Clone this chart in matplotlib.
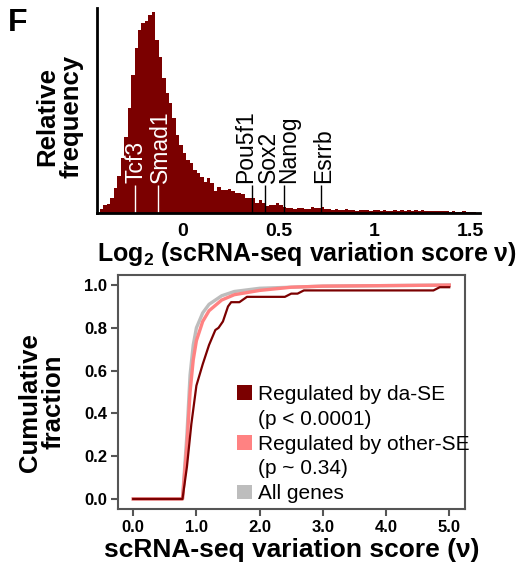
import numpy as np
import matplotlib
matplotlib.use('Agg')
import matplotlib.pyplot as plt
from matplotlib.patches import Patch

plt.rcParams['font.family'] = ['Liberation Sans', 'DejaVu Sans']
plt.rcParams['mathtext.fontset'] = 'custom'
plt.rcParams['mathtext.rm'] = 'Liberation Sans'
plt.rcParams['mathtext.bf'] = 'Liberation Sans:bold'

# Histogramme (log2 score de variation), hauteurs relatives par classe
hist_start = -0.432
hist_width = 0.018
hist_heights = [4, 8, 9, 15, 25, 37, 55, 76, 105, 138,
                165, 183, 190, 192, 198, 201, 173, 156, 135, 120,
                110, 95, 78, 68, 60, 53, 50, 43, 40, 36,
                31, 35, 30, 22, 26, 23, 23, 24, 22, 20,
                20, 19, 15, 15, 15, 10, 13, 10, 7, 8,
                8, 10, 8, 6, 5, 5, 4, 5, 5, 4,
                4, 6, 5, 5, 6, 4, 4, 3, 4, 3,
                3, 4, 3, 3, 2, 3, 3, 3, 2, 3,
                3, 2, 3, 2, 2, 3, 2, 3, 2, 3,
                2, 3, 2, 3, 2, 2, 2, 2, 1.5, 1.5,
                1.5, 1, 1.5, 1, 1, 1.5, 1, 1, 1]

genes = ['Tcf3', 'Smad1', 'Pou5f1', 'Sox2', 'Nanog', 'Esrrb']
gene_x = [-0.25, -0.13, 0.36, 0.43, 0.53, 0.72]

# Courbes cumulatives
da_x = [0.0, 0.78, 0.85, 0.92, 1.0, 1.05, 1.1, 1.2, 1.3, 1.35, 1.42, 1.5, 1.55,
        1.68, 1.8, 2.4, 2.5, 2.6, 2.7, 4.75, 4.85, 5.0]
da_y = [0.0, 0.0, 0.15, 0.35, 0.53, 0.58, 0.63, 0.72, 0.79, 0.80, 0.83, 0.90, 0.92,
        0.92, 0.945, 0.945, 0.96, 0.96, 0.975, 0.975, 0.99, 0.99]
other_x = [0.0, 0.78, 0.85, 0.9, 0.95, 1.0, 1.1, 1.2, 1.4, 1.6, 2.0, 2.5, 3.0, 5.0]
other_y = [0.0, 0.0, 0.25, 0.5, 0.65, 0.74, 0.83, 0.88, 0.93, 0.955, 0.975, 0.99, 0.995, 1.0]
all_x = [0.0, 0.78, 0.85, 0.9, 0.95, 1.0, 1.1, 1.2, 1.4, 1.6, 2.0, 3.0, 5.0]
all_y = [0.0, 0.0, 0.3, 0.58, 0.72, 0.8, 0.87, 0.91, 0.95, 0.97, 0.985, 0.995, 1.0]

legend_labels = ['Regulated by da-SE', '(p < 0.0001)', 'Regulated by other-SE',
                 '(p ~ 0.34)', 'All genes']

dark = '#7B0000'
salmon = '#FF8282'
grey = '#BDBDBD'

fig = plt.figure(figsize=(5.25, 5.63), dpi=100)

# ---- panneau du haut
ax1 = fig.add_axes([0.1848, 0.6217, 0.7295, 0.3641])
edges = hist_start + hist_width * np.arange(len(hist_heights) + 1)
ax1.stairs(hist_heights, edges, fill=True, color=dark, linewidth=0)

gene_col = ['white', 'white', 'black', 'black', 'black', 'black']
gene_dx = [8, 9, 0, 10, 11, 9]   # decalage du texte en pixels
ax1.vlines(gene_x, 0, 28, colors=gene_col, linewidth=1)
for g, x, c, dx in zip(genes, gene_x, gene_col, gene_dx):
    ax1.annotate(g, (x, 30), xytext=(dx, 0), textcoords='offset pixels',
                 rotation=90, rotation_mode='anchor', color=c, fontsize=16.5,
                 ha='left', va='baseline')

ax1.set_xlim(-0.4475, 1.55)
ax1.set_ylim(0, 205)
for sp in ['top', 'right']:
    ax1.spines[sp].set_visible(False)
for sp in ['left', 'bottom']:
    ax1.spines[sp].set_linewidth(2)
ax1.set_yticks([])
ax1.set_xticks([0, 0.5, 1, 1.5])
ax1.set_xticklabels(['0', '0.5', '1', '1.5'], fontsize=14, fontweight='bold')
ax1.tick_params(axis='x', length=0, pad=7)
ax1.set_xlabel(r'Log$_\mathbf{2}$ (scRNA-seq variation score ν)', fontsize=18,
               fontweight='bold', labelpad=0)
ax1.xaxis.label.set_x(0.548)
ax1.set_ylabel('Relative\nfrequency', fontsize=18.5, fontweight='bold',
               linespacing=1.0, labelpad=10)
ax1.yaxis.label.set_y(0.47)

# ---- panneau du bas
ax2 = fig.add_axes([0.2248, 0.0959, 0.661, 0.4156])
ax2.plot(all_x, all_y, color=grey, linewidth=2.4)
ax2.plot(other_x, other_y, color=salmon, linewidth=2.4)
ax2.plot(da_x, da_y, color=dark, linewidth=1.6)

ax2.set_xlim(-0.24, 5.25)
ax2.set_ylim(-0.047, 1.047)
ax2.set_xticks([0, 1, 2, 3, 4, 5])
ax2.set_xticklabels(['0.0', '1.0', '2.0', '3.0', '4.0', '5.0'], fontsize=12, fontweight='bold')
ax2.set_yticks([0, 0.2, 0.4, 0.6, 0.8, 1.0])
ax2.set_yticklabels(['0.0', '0.2', '0.4', '0.6', '0.8', '1.0'], fontsize=12, fontweight='bold')
for sp in ax2.spines.values():
    sp.set_color('#555555')
    sp.set_linewidth(1.5)
ax2.tick_params(length=5, width=1.5, color='#555555', pad=3)
ax2.set_xlabel('scRNA-seq variation score (ν)', fontsize=19, fontweight='bold', labelpad=2)
ax2.set_ylabel('Cumulative\nfraction', fontsize=18.5, fontweight='bold', linespacing=1.0,
               labelpad=13)
ax2.yaxis.label.set_y(0.457)

handles = [Patch(facecolor=dark), Patch(facecolor='none', edgecolor='none'),
           Patch(facecolor=salmon), Patch(facecolor='none', edgecolor='none'),
           Patch(facecolor=grey)]
ax2.legend(handles, legend_labels, loc='upper left', bbox_to_anchor=(0.343, 0.53),
           frameon=False, fontsize=15, handlelength=0.72, handleheight=0.72,
           handletextpad=0.3, labelspacing=0.28, borderpad=0, borderaxespad=0)

fig.text(0.015, 0.985, 'F', fontsize=23, fontweight='bold', va='top', ha='left')

fig.savefig('out.png', dpi=100)
